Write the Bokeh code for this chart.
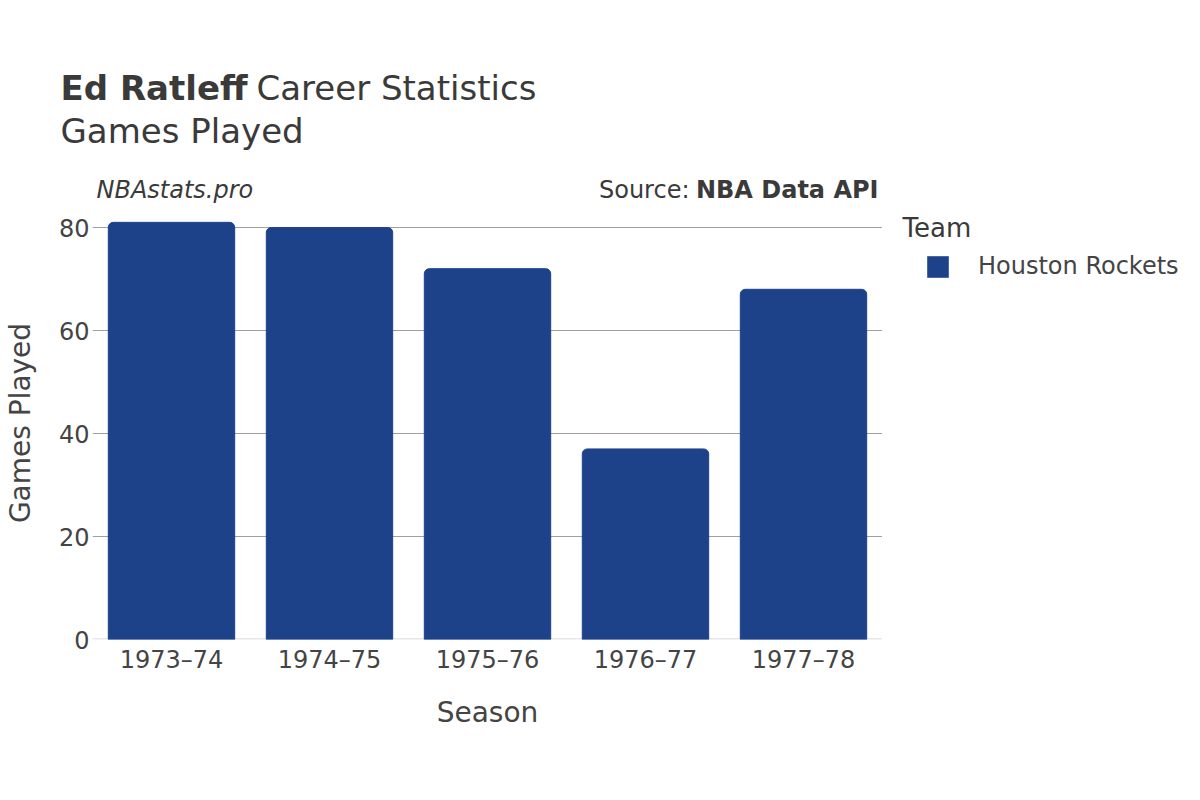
from bokeh.plotting import figure
from bokeh.layouts import column, row
from bokeh.models import (ColumnDataSource, FactorRange, Range1d, FixedTicker, Label,
                          Legend, LegendItem, Span)
from bokeh.embed import file_html
from bokeh.resources import INLINE

seasons = ["1973–74", "1974–75", "1975–76", "1976–77", "1977–78"]
games = [81, 80, 72, 37, 68]
team = "Houston Rockets"
y_ticks = [0, 20, 40, 60, 80]

FONT = "DejaVu Sans"
TXT = "#444444"
TITLE = "#3a3a3a"
BAR = "#1D428A"

src = ColumnDataSource(data=dict(season=seasons, games=games))

TOTAL_W, TOTAL_H = 1184, 784
HEAD_H = 206
MAIN_W = 882
BODY_H = TOTAL_H - HEAD_H
SIDE_W = TOTAL_W - MAIN_W
FRAME_BOTTOM = 639 - HEAD_H   # frame height inside the body row


def blank(w, h, **kw):
    f = figure(width=w, height=h, output_backend="svg", toolbar_location=None,
               x_axis_location=None, y_axis_location=None, min_border=0, **kw)
    f.outline_line_color = None
    f.grid.grid_line_color = None
    return f


def lab(f, text, x, base, size_px, style="normal", align="left", color=TITLE):
    # rendered baseline sits ~0.37em below the given y; compensate
    f.add_layout(Label(x=x, y=base - 0.37 * size_px, x_units="canvas", y_units="canvas",
                       text=text, text_font=FONT, text_font_size=f"{size_px}px",
                       text_font_style=style, text_color=color, text_align=align,
                       text_baseline="alphabetic"))


# ---- header ----
head = blank(TOTAL_W, HEAD_H, x_range=Range1d(0, 1), y_range=Range1d(0, 1))
lab(head, "Ed Ratleff", 60, 100, 34, "bold")
lab(head, "Career Statistics", 256, 100, 34)
lab(head, "Games Played", 60, 143, 34)
lab(head, "NBAstats.pro", 96, 198, 24, "italic")
lab(head, "Source:", 689, 198, 24, "normal", "right")
lab(head, "NBA Data API", 878, 198, 24, "bold", "right")

# ---- main chart ----
p = figure(width=MAIN_W, height=BODY_H, output_backend="svg", toolbar_location=None,
           x_range=FactorRange(*seasons, range_padding=0),
           y_range=Range1d(0, FRAME_BOTTOM / 5.15),
           min_border_left=92, min_border_right=0, min_border_top=0,
           min_border_bottom=BODY_H - FRAME_BOTTOM)
p.outline_line_color = None

r = p.vbar(x="season", top="games", width=0.8, source=src, fill_color=BAR,
           line_color=BAR, border_radius=[5, 5, 0, 0])

p.yaxis.ticker = FixedTicker(ticks=y_ticks)
p.ygrid.ticker = FixedTicker(ticks=[t for t in y_ticks if t != 0])
p.ygrid.grid_line_color = "#a0a0a0"
p.ygrid.grid_line_width = 1
p.xgrid.grid_line_color = None
for ax in (p.xaxis[0], p.yaxis[0]):
    ax.axis_line_color = None
    ax.major_tick_line_color = None
    ax.minor_tick_line_color = None
    ax.major_label_text_font = FONT
    ax.major_label_text_font_size = "24px"
    ax.major_label_text_color = TXT
    ax.axis_label_text_font = FONT
    ax.axis_label_text_font_size = "28px"
    ax.axis_label_text_font_style = "normal"
    ax.axis_label_text_color = TXT
p.xaxis.axis_label = "Season"
p.yaxis.axis_label = "Games Played"
p.xaxis.major_label_standoff = 0
p.xaxis.axis_label_standoff = 19
p.yaxis.major_label_standoff = -3
p.yaxis.axis_label_standoff = 19

p.add_layout(Span(location=0, dimension="width", line_color="#e8e8e8",
                  line_width=3, level="underlay"))

# ---- side (legend) ----
# zero-width bars: nothing visible in this panel, but the legend gets the bar's colour
side = blank(SIDE_W, BODY_H, x_range=FactorRange(*seasons), y_range=Range1d(0, 100))
lr = side.vbar(x="season", top="games", width=0, source=src, fill_color=BAR,
               line_color=None)
lab(side, "Team", 20, 237 - HEAD_H, 26)
legend = Legend(items=[LegendItem(label=team, renderers=[lr])],
                location=(42, FRAME_BOTTOM - (252 - HEAD_H) - 28), padding=0, margin=0,
                border_line_color=None, background_fill_alpha=0,
                glyph_width=27, glyph_height=27, label_height=28,
                label_standoff=27, label_text_font=FONT,
                label_text_font_size="24px", label_text_color=TXT)
side.add_layout(legend)

layout = column(head, row(p, side, spacing=0), spacing=0)
open("out.html", "w").write(file_html(layout, INLINE))
